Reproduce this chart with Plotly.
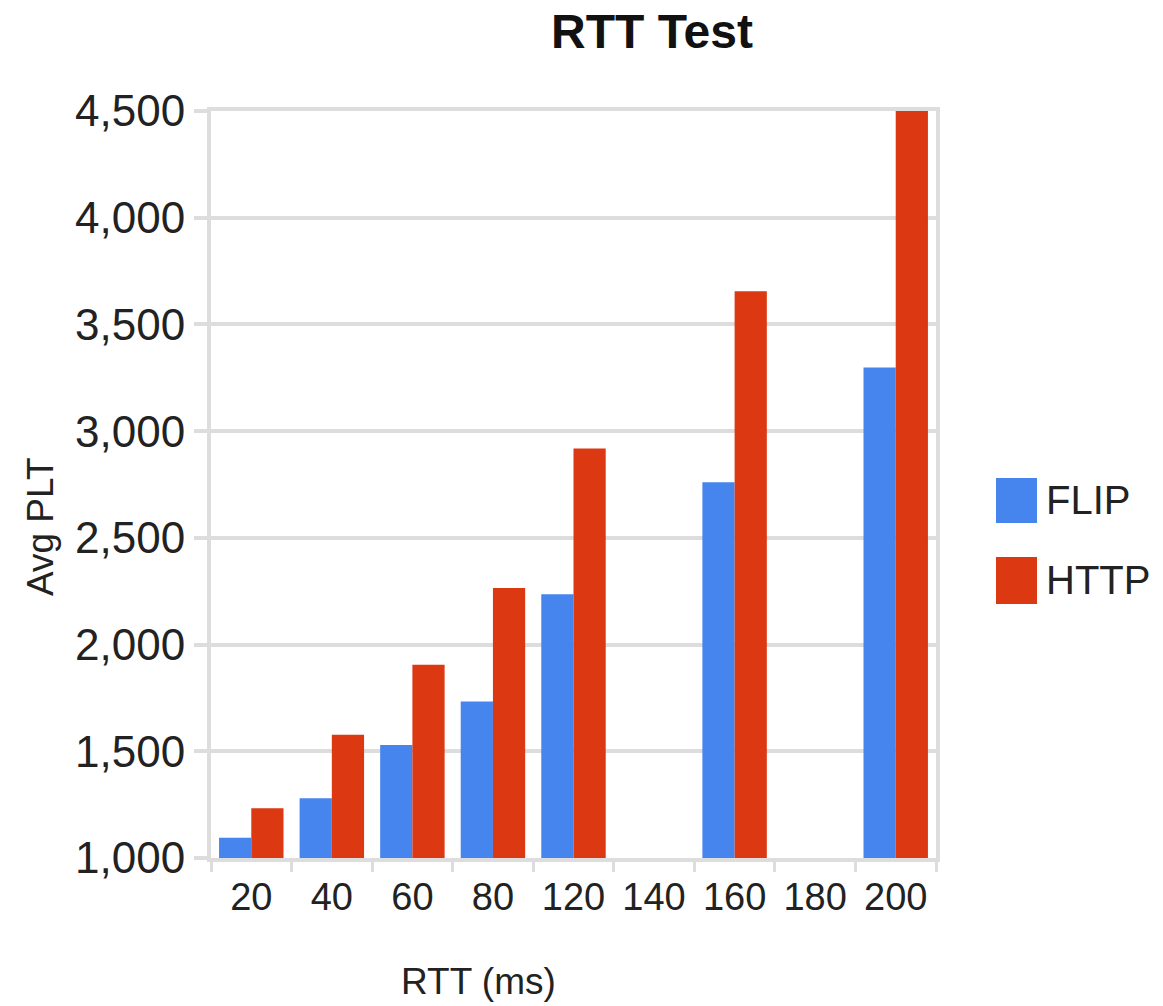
import plotly.graph_objects as go

categories = ["20", "40", "60", "80", "120", "140", "160", "180", "200"]
series_names = ["FLIP", "HTTP"]
flip_values = [1095, 1280, 1530, 1733, 2236, None, 2760, None, 3298]
http_values = [1233, 1577, 1905, 2265, 2919, None, 3655, None, 4500]
colors = ["#4684EE", "#DC3912"]
y_ticks = [1000, 1500, 2000, 2500, 3000, 3500, 4000, 4500]

FONT = "Liberation Sans, Arial, sans-serif"
GRID = "#DDDDDD"
TXT = "#222222"

fig = go.Figure()
for name, vals, col in zip(series_names, [flip_values, http_values], colors):
    fig.add_trace(go.Bar(x=categories, y=vals, name=name, marker_color=col,
                         marker_line_width=0, showlegend=False))

fig.update_layout(
    width=1163, height=1006,
    margin=dict(l=211, r=227, t=111, b=148),
    paper_bgcolor="white", plot_bgcolor="white",
    barmode="group", bargap=0.2, bargroupgap=0,
    title=dict(text="RTT Test", x=652/1163, xref="container", xanchor="center",
               y=1 - 31/1006, yref="container", yanchor="middle",
               font=dict(family=FONT, size=48, color="#111111", weight="bold")),
    xaxis=dict(type="category", categoryorder="array", categoryarray=categories,
               showgrid=False, showline=True, mirror=True, linecolor=GRID, linewidth=4,
               ticks="outside", tickson="boundaries", ticklen=10, tickwidth=3, tickcolor=GRID,
               tickangle=0,
               tickfont=dict(family=FONT, size=38, color=TXT), ticklabelstandoff=2),
    yaxis=dict(range=[1000, 4500], tickvals=y_ticks, tickformat=",",
               showgrid=True, gridcolor=GRID, gridwidth=4,
               showline=True, mirror=True, linecolor=GRID, linewidth=4,
               ticks="outside", ticklen=13, tickwidth=4, tickcolor=GRID,
               tickfont=dict(family=FONT, size=44, color=TXT), ticklabelstandoff=0,
               zeroline=False),
)

# axis titles
fig.add_annotation(text="Avg PLT", xref="paper", yref="paper", x=(40-211)/725, y=(858-527)/747,
                   textangle=-90, showarrow=False, xanchor="center", yanchor="middle",
                   font=dict(family=FONT, size=37, color=TXT))
fig.add_annotation(text="RTT (ms)", xref="paper", yref="paper", x=(478-211)/725, y=(858-981)/747,
                   showarrow=False, xanchor="center", yanchor="middle",
                   font=dict(family=FONT, size=37, color=TXT))

# legend
legend_rows = [(478, 523, 500), (557, 604, 580)]
for name, col, (top, bot, mid) in zip(series_names, colors, legend_rows):
    fig.add_shape(type="rect", xref="paper", yref="paper",
                  x0=(996-211)/725, x1=(1037-211)/725, y0=(858-bot)/747, y1=(858-top)/747,
                  fillcolor=col, line_width=0)
    fig.add_annotation(text=name, xref="paper", yref="paper", x=(1044-211)/725, y=(858-mid)/747,
                       showarrow=False, xanchor="left", yanchor="middle",
                       font=dict(family=FONT, size=40, color=TXT))

fig.write_html("out.html")
